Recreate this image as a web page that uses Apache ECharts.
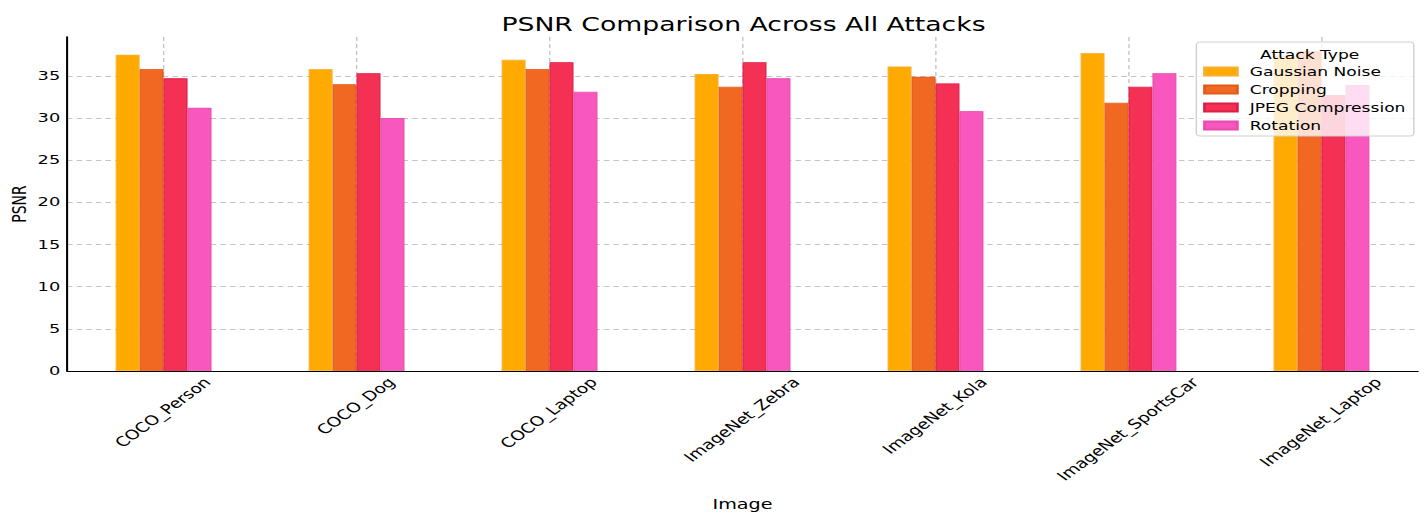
<!DOCTYPE html>
<html>
<head>
<meta charset="utf-8">
<script src="https://cdn.jsdelivr.net/npm/echarts@6/dist/echarts.min.js"></script>
<style>
  html, body { margin: 0; padding: 0; background: #fff; overflow: hidden; }
  #wrap { width: 1424px; height: 513px; overflow: hidden; }
  #chart { width: 1040px; height: 513px; transform: scaleX(1.36923); transform-origin: 0 0; }
</style>
</head>
<body>
<div id="wrap"><div id="chart"></div></div>
<script>
const categories = ['COCO_Person', 'COCO_Dog', 'COCO_Laptop', 'ImageNet_Zebra', 'ImageNet_Kola', 'ImageNet_SportsCar', 'ImageNet_Laptop'];
const seriesNames = ['Gaussian Noise', 'Cropping', 'JPEG Compression', 'Rotation'];
const gaussianNoise = [37.5, 35.8, 36.9, 35.2, 36.1, 37.7, 37.4];
const cropping = [35.8, 34.0, 35.8, 33.7, 34.9, 31.8, 37.9];
const jpegCompression = [34.7, 35.3, 36.6, 36.6, 34.1, 33.7, 32.7];
const rotation = [31.2, 30.0, 33.1, 34.7, 30.8, 35.3, 33.9];
const yTicks = [0, 5, 10, 15, 20, 25, 30, 35];

const seriesValues = [gaussianNoise, cropping, jpegCompression, rotation];
const colors = ['#FFAA00', '#F16823', '#F53055', '#F858BE'];
const borders = ['#F5B030', '#E05A18', '#DC1E45', '#E84AB0'];
const FONT = '"DejaVu Sans", sans-serif';
const XFS = 13.5;

// measure label widths to mimic centred (matplotlib-style) rotated labels
const cv = document.createElement('canvas').getContext('2d');
cv.font = XFS + 'px "DejaVu Sans"';
const LH = XFS + 2;
const catData = categories.map(c => {
  const w = cv.measureText(c).width;
  return {
    value: c,
    textStyle: {
      align: 'center', verticalAlign: 'top',
      padding: [Math.max(0, (w - LH) / 4), (w + LH) / 2, 0, 0]
    }
  };
});

const chart = echarts.init(document.getElementById('chart'), null, { renderer: 'svg' });
chart.setOption({
  animation: false,
  backgroundColor: '#fff',
  textStyle: { fontFamily: FONT },
  title: [
    { text: 'PSNR Comparison Across All Attacks', left: 538, top: 9, textAlign: 'center',
      textStyle: { fontFamily: FONT, fontSize: 19.5, fontWeight: 'normal', color: '#000' } },
    { text: 'Attack Type', left: 951.5, top: 43, textAlign: 'center', z: 10,
      textStyle: { fontFamily: FONT, fontSize: 12.5, fontWeight: 'normal', color: '#000' } }
  ],
  legend: {
    orient: 'vertical', left: 873.7, top: 42,
    padding: [23, 6, 4, 5],
    itemWidth: 24, itemHeight: 8, itemGap: 5, icon: 'rect',
    backgroundColor: 'rgba(255,255,255,0.8)', borderColor: '#d0d0d0', borderWidth: 1, borderRadius: 3,
    textStyle: { fontFamily: FONT, fontSize: 12.5, color: '#000', padding: [0, 0, 0, 4] },
    data: seriesNames
  },
  grid: { left: 49, right: 4.4, top: 37, bottom: 142, containLabel: false, outerBoundsMode: 'none' },
  xAxis: {
    type: 'category', data: catData,
    name: 'Image', nameLocation: 'middle', nameGap: 126, nameMoveOverlap: false,
    nameTextStyle: { fontFamily: FONT, fontSize: 14, color: '#000' },
    axisLine: { lineStyle: { color: '#000', width: 1.2 } },
    axisTick: { show: false },
    axisLabel: { interval: 0, rotate: 45, margin: 4,
      fontFamily: FONT, fontSize: XFS, color: '#000', hideOverlap: false },
    splitLine: { show: true, alignWithLabel: true, lineStyle: { color: '#c4c4c4', type: [4, 3], width: 1 } }
  },
  yAxis: {
    type: 'value', min: 0, max: 39.6, interval: 5,
    name: 'PSNR', nameLocation: 'middle', nameGap: 28, nameRotate: 90, nameMoveOverlap: false,
    nameTextStyle: { fontFamily: FONT, fontSize: 14, color: '#000' },
    axisLine: { show: true, lineStyle: { color: '#000', width: 1.5 } },
    axisTick: { show: false },
    axisLabel: { margin: 5, fontFamily: FONT, fontSize: 13, color: '#000', showMaxLabel: false,
      formatter: v => (yTicks.indexOf(v) >= 0 ? String(v) : '') },
    splitLine: { show: true, showMaxLine: false, showMinLine: false, lineStyle: { color: '#c4c4c4', type: [4, 3], width: 1 } }
  },
  series: seriesNames.map((name, i) => ({
    name, type: 'bar', data: seriesValues[i],
    barWidth: 17.5, barGap: '0%',
    itemStyle: { color: colors[i], borderColor: borders[i], borderWidth: 0.8 }
  }))
});
</script>
</body>
</html>
